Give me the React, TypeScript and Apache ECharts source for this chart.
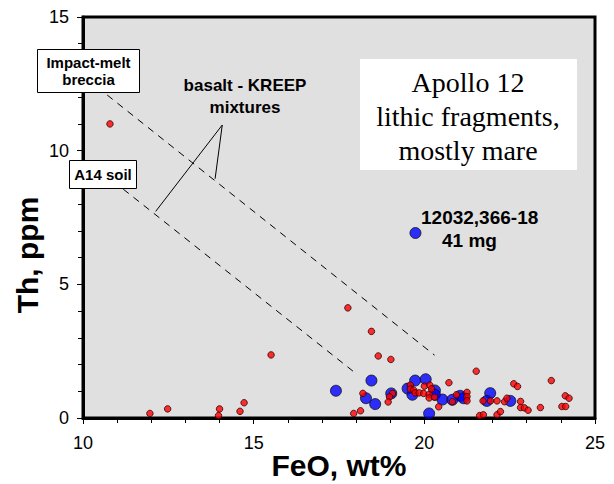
import React, { useEffect, useRef } from "react";
import * as echarts from "echarts";

// FeO (wt%), Th (ppm)
const bluePoints: number[][] = [
  [17.41, 1.02], [18.45, 1.4], [18.29, 0.74], [18.56, 0.52], [19.03, 0.92],
  [19.73, 1.4], [20.04, 1.45], [19.51, 1.1], [19.65, 0.87], [20.31, 1.03],
  [20.31, 0.87], [20.53, 0.69], [20.82, 0.68], [21.05, 0.83], [21.15, 0.74],
  [21.93, 0.93], [21.83, 0.64], [22.52, 0.64], [20.14, 0.17], [19.74, 6.92],
];

const redPoints: number[][] = [
  [10.79, 11.0], [11.96, 0.17], [12.48, 0.34], [14.0, 0.34], [13.97, 0.09],
  [14.6, 0.25], [14.72, 0.57], [15.51, 2.36], [17.76, 4.12], [18.45, 3.24],
  [18.65, 2.32], [19.02, 2.19], [17.93, 0.17], [18.13, 0.27], [18.2, 0.92],
  [19.07, 0.92], [18.98, 0.79], [18.94, 0.6],
  [19.59, 1.23], [19.59, 1.08], [19.69, 1.04], [19.73, 0.94], [19.85, 0.94],
  [20.0, 1.19], [20.16, 1.23], [19.98, 0.92], [20.14, 0.88], [20.21, 1.09],
  [20.14, 0.75], [20.3, 0.78], [20.42, 0.42], [20.94, 0.87], [20.82, 0.61],
  [21.25, 0.96], [21.25, 0.8], [21.25, 0.64], [20.72, 1.32], [21.52, 1.75],
  [21.72, 0.64], [21.94, 0.64], [22.13, 0.64], [22.35, 0.61], [22.42, 0.74],
  [21.62, 0.09], [21.73, 0.12], [22.13, 0.12], [22.23, 0.24], [22.62, 1.28],
  [22.73, 1.18], [23.72, 1.4], [24.13, 0.83], [24.24, 0.74], [24.03, 0.43],
  [24.14, 0.43], [23.4, 0.39], [22.82, 0.62], [22.82, 0.39], [22.93, 0.38],
  [23.04, 0.29],
];

const upperMixLine: number[][] = [[10.71, 12.08], [20.3, 2.35]];
const lowerMixLine: number[][] = [[11.18, 8.56], [18.04, 1.62]];
const calloutLine: number[][] = [[12.13, 7.73], [14.08, 10.96], [13.87, 8.95]];

const xTicks = { min: 10, max: 25, interval: 5 };
const yTicks = { min: 0, max: 15, interval: 5 };

const SANS = "'Liberation Sans', Arial, sans-serif";
const SERIF = "'Liberation Serif', 'Times New Roman', serif";

export default function App() {
  const ref = useRef<HTMLDivElement>(null);
  useEffect(() => {
    if (!ref.current) return;
    const chart = echarts.init(ref.current, undefined, { renderer: "svg" });
    const axisCommon = {
      type: "value" as const,
      axisLine: { show: true, onZero: false, lineStyle: { color: "#000", width: 3 } },
      axisTick: { show: true, length: 6, lineStyle: { color: "#000", width: 1 } },
      minorTick: { show: true, splitNumber: 5, length: 5, lineStyle: { color: "#000", width: 1 } },
      splitLine: { show: false },
      minorSplitLine: { show: false },
      axisLabel: { fontSize: 18, fontFamily: SANS, color: "#000" },
    };
    chart.setOption({
      animation: false,
      backgroundColor: "#fff",
      grid: {
        left: 83, right: 19, top: 17, bottom: 66,
        containLabel: false,
        outerBoundsMode: "none",
        show: true, backgroundColor: "#e0e0e0", borderColor: "#000", borderWidth: 3,
      },
      xAxis: {
        ...axisCommon,
        ...xTicks,
        axisLabel: { ...axisCommon.axisLabel, margin: 16 },
      },
      yAxis: {
        ...axisCommon,
        ...yTicks,
        axisLabel: { ...axisCommon.axisLabel, margin: 14 },
      },
      series: [
        {
          type: "line", data: upperMixLine, symbol: "none", silent: true,
          lineStyle: { color: "#000", width: 1, type: [7, 6] },
        },
        {
          type: "line", data: lowerMixLine, symbol: "none", silent: true,
          lineStyle: { color: "#000", width: 1, type: [7, 6] },
        },
        {
          type: "line", data: calloutLine, symbol: "none", silent: true,
          lineStyle: { color: "#000", width: 1 },
        },
        {
          type: "scatter", data: bluePoints, symbol: "circle", symbolSize: 11,
          itemStyle: { color: "#0000ff", borderColor: "#111", borderWidth: 1 },
        },
        {
          type: "scatter", data: redPoints, symbol: "circle", symbolSize: 6.5,
          itemStyle: { color: "#ff0000", borderColor: "#300", borderWidth: 1 },
        },
      ],
      graphic: [
        {
          type: "text", z: 101, x: 27, y: 255, rotation: Math.PI / 2,
          style: {
            text: "Th, ppm", fill: "#000", font: `bold 30px ${SANS}`,
            align: "center", verticalAlign: "middle",
          },
        },
        {
          type: "text", z: 101, x: 339, y: 465,
          style: {
            text: "FeO, wt%", fill: "#000", font: `bold 30px ${SANS}`,
            align: "center", verticalAlign: "middle",
          },
        },
        {
          type: "rect", z: 100,
          shape: { x: 37.5, y: 49.5, width: 102, height: 43 },
          style: { fill: "#fff", stroke: "#000", lineWidth: 1 },
        },
        {
          type: "text", z: 101, x: 88.5, y: 71,
          style: {
            text: "Impact-melt\nbreccia", fill: "#000", font: `bold 15px ${SANS}`,
            align: "center", verticalAlign: "middle", lineHeight: 17,
          },
        },
        {
          type: "rect", z: 100,
          shape: { x: 69.5, y: 160.5, width: 67, height: 28 },
          style: { fill: "#fff", stroke: "#000", lineWidth: 1 },
        },
        {
          type: "text", z: 101, x: 103, y: 174.5,
          style: {
            text: "A14 soil", fill: "#000", font: `bold 15px ${SANS}`,
            align: "center", verticalAlign: "middle",
          },
        },
        {
          type: "rect", z: 100,
          shape: { x: 360, y: 59, width: 217, height: 111 },
          style: { fill: "#fff" },
        },
        {
          type: "text", z: 101, x: 468, y: 116,
          style: {
            text: "Apollo 12\nlithic fragments,\nmostly mare", fill: "#000",
            font: `28px ${SERIF}`, align: "center", verticalAlign: "middle", lineHeight: 34,
          },
        },
        {
          type: "text", z: 101, x: 245, y: 96,
          style: {
            text: "basalt - KREEP\nmixtures", fill: "#000", font: `bold 17px ${SANS}`,
            align: "center", verticalAlign: "middle", lineHeight: 22,
          },
        },
        {
          type: "text", z: 101, x: 421, y: 217,
          style: {
            text: "12032,366-18", fill: "#000", font: `bold 19px ${SANS}`,
            align: "left", verticalAlign: "middle",
          },
        },
        {
          type: "text", z: 101, x: 442, y: 240,
          style: {
            text: "41 mg", fill: "#000", font: `bold 19px ${SANS}`,
            align: "left", verticalAlign: "middle",
          },
        },
      ],
    });
    return () => chart.dispose();
  }, []);
  return (
    <div
      ref={ref}
      style={{ position: "absolute", left: 0, top: 0, width: 614, height: 484 }}
    />
  );
}
